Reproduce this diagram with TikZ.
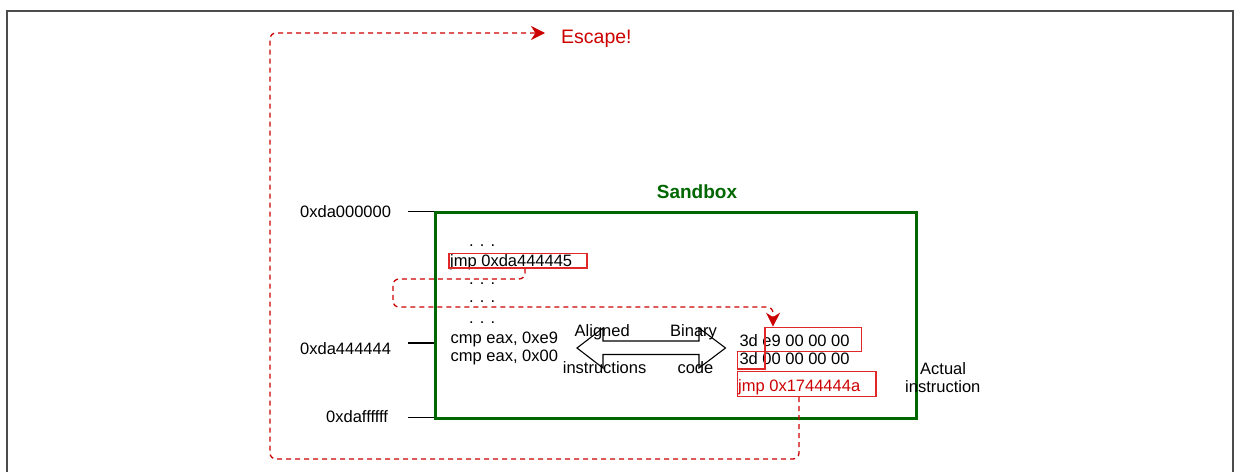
\documentclass[tikz,border=0pt]{standalone}
\usepackage{fontspec}
\setmainfont{Liberation Sans}
\usetikzlibrary{arrows.meta,calc}
\definecolor{sbgreen}{RGB}{0,102,0}
\definecolor{escred}{RGB}{204,0,0}
\definecolor{boxred}{RGB}{225,40,40}
\begin{document}
\begin{tikzpicture}[x=1pt,y=-1pt,
  txt/.style={inner sep=0pt,anchor=base west,font=\fontsize{16.5}{18}\selectfont},
  redbox/.style={draw=boxred,line width=1.5pt,inner sep=0pt,anchor=north west},
  flow/.style={draw=escred,line width=1.3pt,dash pattern=on 5pt off 4pt,rounded corners=6pt},
  redtip/.style={-{Stealth[length=14bp,width=14bp,inset=4.5bp,fill=escred]}},
  tick/.style={draw=black,line width=1.1pt}]
\useasboundingbox (0,0) rectangle (1235,472);
% outer frame
\draw[gray!60!black,line width=1.2pt] (7,472) -- (7,11) -- (1233,11) -- (1233,472);
% sandbox
\node[draw=sbgreen,line width=3pt,inner sep=0pt,minimum width=481pt,minimum height=206pt,anchor=north west] (sandbox) at (434,210.7) {};
\node[inner sep=0pt,anchor=base,text=sbgreen,font=\fontsize{19}{21}\selectfont\bfseries] (sblabel) at (697,198) {Sandbox};
% addresses
\node[txt] (a0) at (300,217) {0xda000000};
\node[txt] (a4) at (300,354) {0xda444444};
\node[txt] (af) at (326,422.5) {0xdaffffff};
\coordinate (t0) at (408,211.5);
\coordinate (t4) at (408,343);
\coordinate (tf) at (408,417.5);
\draw[tick] (t0) -- (t0 -| sandbox.west);
\draw[tick] (t4) -- (t4 -| sandbox.west);
\draw[tick] (tf) -- (tf -| sandbox.west);
% left code
\node[txt] (d1) at (469,246) {. . .};
\node[txt] (jmp1) at (450,266) {jmp 0xda444445};
\node[redbox,minimum width=138pt,minimum height=14.5pt] (jmpbox) at (448,252.5) {};
\node[txt] (d2) at (469,284) {. . .};
\node[txt] (d3) at (469,302.5) {. . .};
\node[txt] (d4) at (469,323) {. . .};
\node[txt] (c1) at (450.5,343.3) {cmp eax, 0xe9};
\node[txt] (c2) at (450.5,361.7) {cmp eax, 0x00};
% double arrow
\draw[black,line width=1.1pt] (577,348) -- (603,328) -- (603,341) -- (699,341) -- (699,328) -- (725.5,348) -- (699,368) -- (699,354.5) -- (603,354.5) -- (603,368) -- cycle;
\node[txt] (al) at (574.5,336) {Aligned};
\node[txt] (bi) at (670,336) {Binary};
\node[txt] (in) at (562.7,373.5) {instructions};
\node[txt] (co) at (677.3,373.5) {code};
% right code
\node[txt] (b1) at (739.3,346) {3d e9 00 00 00};
\node[txt] (b2) at (739.3,364.7) {3d 00 00 00 00};
\node[txt,text=escred] (b3) at (738,391) {jmp 0x1744444a};
\node[redbox,minimum width=96.5pt,minimum height=24pt] (box1) at (764.3,326.7) {};
\node[redbox,minimum width=27.6pt,minimum height=17.6pt] (box2) at (736.7,350.7) {};
\node[redbox,minimum width=138.3pt,minimum height=25pt] (box3) at (736.7,370.7) {};
\node[txt] (act1) at (920,374) {Actual};
\node[txt] (act2) at (905,392.3) {instruction};
% escape
\node[txt,text=escred,font=\fontsize{19.5}{22}\selectfont] (esc) at (561,43.3) {Escape!};
\coordinate (escin) at (545,33);
% connectors
\coordinate (j1) at (525,0);
\coordinate (b1in) at (773,0);
\coordinate (b3out) at (799,0);
\draw[flow,redtip] (j1 |- jmpbox.south) -- (525,279) -- (393,279) -- (393,307) -- (773,307) -- (b1in |- box1.north);
\draw[flow,redtip] (b3out |- box3.south) -- (799,459) -- (270,459) -- (270,33) -- (escin);
\end{tikzpicture}
\end{document}
